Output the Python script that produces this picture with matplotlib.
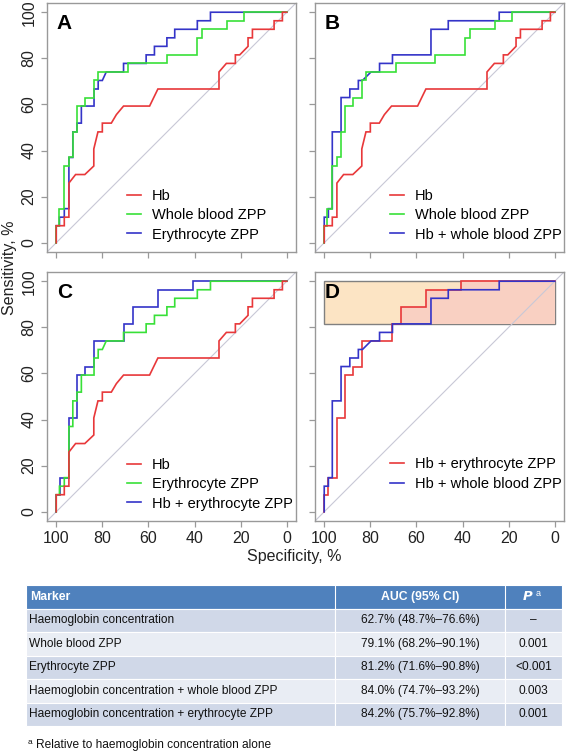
import numpy as np
import matplotlib.pyplot as plt
from matplotlib.patches import Rectangle

plt.rcParams['font.family'] = ['Liberation Sans', 'DejaVu Sans']

# ROC step curves: specificity (%) vs sensitivity (%)
hb_spec = [100, 100, 96.5, 96.5, 94.5, 94.5, 91.6, 87.6, 83.7, 83.7, 81.9, 80.0, 80.0, 76.1, 73.9, 70.8,
           59.5, 55.9, 29.4, 29.4, 26.2, 22.3, 22.3, 20.4, 16.8, 16.8, 14.9, 14.9, 5.5, 5.5, 1.9, 1.9, 0]
hb_sens = [0, 7.4, 7.4, 11.1, 11.1, 25.9, 29.6, 29.6, 33.3, 40.7, 48.1, 48.1, 51.9, 51.9, 55.6, 59.3,
           59.3, 66.7, 66.7, 74.1, 77.8, 77.8, 81.5, 81.5, 85.2, 88.9, 88.9, 92.6, 92.6, 96.3, 96.3, 100, 100]

wb_spec = [100, 100, 98.6, 98.6, 96.5, 96.5, 94.5, 94.5, 92.8, 92.8, 91.0, 91.0, 87.5, 87.5, 83.6, 83.6,
           81.8, 81.8, 68.8, 68.8, 52.0, 52.0, 39.0, 39.0, 36.8, 36.8, 25.9, 25.9, 18.6, 18.6, 0]
wb_sens = [0, 7.4, 7.4, 14.8, 14.8, 33.3, 33.3, 37.0, 37.0, 48.1, 48.1, 59.3, 59.3, 63.0, 63.0, 70.4,
           70.4, 74.1, 74.1, 77.8, 77.8, 81.5, 81.5, 88.9, 88.9, 92.6, 92.6, 96.3, 96.3, 100, 100]

ery_spec = [100, 100, 98.6, 98.6, 96.5, 96.5, 94.5, 94.5, 92.8, 92.8, 91.0, 91.0, 89.1, 89.1, 83.6, 83.6,
            81.8, 81.8, 80.0, 78.3, 70.8, 70.8, 61.0, 61.0, 57.4, 57.4, 52.0, 52.0, 48.6, 48.6, 38.8, 38.8,
            33.1, 33.1, 0]
ery_sens = [0, 7.4, 7.4, 11.1, 11.1, 14.8, 14.8, 37.0, 37.0, 48.1, 48.1, 51.9, 51.9, 59.3, 59.3, 66.7,
            66.7, 70.4, 70.4, 74.1, 74.1, 77.8, 77.8, 81.5, 81.5, 85.2, 85.2, 88.9, 88.9, 92.6, 92.6, 96.3,
            96.3, 100, 100]

hbwb_spec = [100, 100, 98.2, 98.2, 96.5, 96.5, 92.7, 92.7, 88.9, 88.9, 85.2, 85.2, 83.4, 79.7, 76.0, 76.0,
             70.4, 70.4, 53.7, 53.7, 46.2, 46.2, 24.1, 24.1, 0]
hbwb_sens = [0, 11.1, 11.1, 14.8, 14.8, 48.1, 48.1, 63.0, 63.0, 66.7, 66.7, 70.4, 70.4, 74.1, 74.1, 77.8,
             77.8, 81.5, 81.5, 92.6, 92.6, 96.3, 96.3, 100, 100]

hbery_spec = [100, 100, 98.3, 98.3, 94.6, 94.6, 91.0, 91.0, 87.6, 87.6, 83.4, 83.4, 70.8, 70.8, 66.8, 66.8,
              55.8, 55.8, 40.8, 40.8, 0]
hbery_sens = [0, 7.4, 7.4, 14.8, 14.8, 40.7, 40.7, 59.3, 59.3, 63.0, 63.0, 74.1, 74.1, 81.5, 81.5, 88.9,
              88.9, 96.3, 96.3, 100, 100]

pauc_lo = 81.5  # lower sensitivity bound of shaded region in D

ticks = [0, 20, 40, 60, 80, 100]

# table
markers = ['Haemoglobin concentration', 'Whole blood ZPP', 'Erythrocyte ZPP',
           'Haemoglobin concentration + whole blood ZPP', 'Haemoglobin concentration + erythrocyte ZPP']
aucs = ['62.7% (48.7%\u201376.6%)', '79.1% (68.2%\u201390.1%)', '81.2% (71.6%\u201390.8%)',
        '84.0% (74.7%\u201393.2%)', '84.2% (75.7%\u201392.8%)']
pvals = ['\u2013', '0.001', '<0.001', '0.003', '0.001']

RED = '#e8383a'
GREEN = '#38e038'
BLUE = '#3434c8'
GRID = '#999999'

W, H = 567, 752
fig = plt.figure(figsize=(W / 100, H / 100), dpi=100)


def px_axes(left, top, right, bottom):
    return fig.add_axes([left / W, 1 - bottom / H, (right - left) / W, (bottom - top) / H])


def roc_panel(ax, letter, curves, legend_order, xlab, ylab, leg_anchor):
    ax.set_xlim(104, -4)
    ax.set_ylim(-4, 104)
    ax.axline((100, 0), (0, 100), color='#c8c8d6', lw=0.8, zorder=1)
    handles = {}
    for (x, y, c, lab, z) in curves:
        h, = ax.plot(x, y, color=c, lw=1.2, label=lab, zorder=z, solid_joinstyle='miter')
        handles[lab] = h
    ax.set_xticks(ticks)
    ax.set_yticks(ticks)
    for s in ax.spines.values():
        s.set_color(GRID)
        s.set_linewidth(1.0)
    ax.tick_params(colors=GRID, labelcolor='#222222', length=4.5, width=0.9, labelsize=11.5, pad=3)
    ax.tick_params(axis='y', labelrotation=90)
    for t in ax.get_yticklabels():
        t.set_va('center')
    if not xlab:
        ax.set_xticklabels([])
    if not ylab:
        ax.set_yticklabels([])
    ax.text(0.04, 0.955, letter, transform=ax.transAxes, fontsize=15, fontweight='bold',
            ha='left', va='top', zorder=6)
    ax.legend([handles[k] for k in legend_order], legend_order, loc='lower left',
              bbox_to_anchor=leg_anchor, frameon=False, fontsize=10.5, handlelength=1.0,
              handletextpad=0.75, labelspacing=0.36, borderpad=0, borderaxespad=0)


axA = px_axes(47, 3, 296, 252)
axB = px_axes(315, 3, 564, 252)
axC = px_axes(47, 272, 296, 521)
axD = px_axes(315, 272, 564, 521)

roc_panel(axA, 'A',
          [(ery_spec, ery_sens, BLUE, 'Erythrocyte ZPP', 2),
           (wb_spec, wb_sens, GREEN, 'Whole blood ZPP', 3),
           (hb_spec, hb_sens, RED, 'Hb', 4)],
          ['Hb', 'Whole blood ZPP', 'Erythrocyte ZPP'], False, True, (0.32, 0.042))
roc_panel(axB, 'B',
          [(hbwb_spec, hbwb_sens, BLUE, 'Hb + whole blood ZPP', 2),
           (wb_spec, wb_sens, GREEN, 'Whole blood ZPP', 3),
           (hb_spec, hb_sens, RED, 'Hb', 4)],
          ['Hb', 'Whole blood ZPP', 'Hb + whole blood ZPP'], False, False, (0.3, 0.042))
roc_panel(axC, 'C',
          [(hbery_spec, hbery_sens, BLUE, 'Hb + erythrocyte ZPP', 2),
           (ery_spec, ery_sens, GREEN, 'Erythrocyte ZPP', 3),
           (hb_spec, hb_sens, RED, 'Hb', 4)],
          ['Hb', 'Erythrocyte ZPP', 'Hb + erythrocyte ZPP'], True, True, (0.32, 0.042))

# panel D: shaded partial-AUC region
axD.add_patch(Rectangle((0, pauc_lo), 100, 100 - pauc_lo, facecolor='#fce4c4',
                        edgecolor='#808080', lw=1.0, zorder=0.5))
axD.fill_between(hbery_spec, np.clip(hbery_sens, pauc_lo, 100), pauc_lo,
                 color='#f9d0c2', lw=0, zorder=0.6)
roc_panel(axD, 'D',
          [(hbery_spec, hbery_sens, RED, 'Hb + erythrocyte ZPP', 2),
           (hbwb_spec, hbwb_sens, BLUE, 'Hb + whole blood ZPP', 3)],
          ['Hb + erythrocyte ZPP', 'Hb + whole blood ZPP'], True, False, (0.3, 0.122))

fig.text(10 / W, 1 - 268 / H, 'Sensitivity, %', rotation=90, ha='center', va='center',
         fontsize=11.5, color='#222222')
fig.text(294 / W, 1 - 557 / H, 'Specificity, %', ha='center', va='center',
         fontsize=11.5, color='#222222')

# table below the plots
tax = fig.add_axes([0, 0, 1, 1])
tax.set_xlim(0, W)
tax.set_ylim(H, 0)
tax.axis('off')
cols = [26, 335, 505, 562]
top = 585
rh = 23.5
tax.add_patch(Rectangle((cols[0], top), cols[-1] - cols[0], rh, facecolor='#4f81bd',
                        edgecolor='white', lw=0.8))
for j in range(1, 3):
    tax.plot([cols[j], cols[j]], [top, top + rh], color='white', lw=0.8)
yc = top + rh / 2
tax.text(cols[0] + 4, yc, 'Marker', color='white', fontweight='bold', fontsize=8.8, va='center')
tax.text((cols[1] + cols[2]) / 2, yc, 'AUC (95% CI)', color='white', fontweight='bold',
         fontsize=8.8, va='center', ha='center')
tax.text((cols[2] + cols[3]) / 2, yc, r'$\boldsymbol{P}$', color='white', fontsize=9.5,
         va='center', ha='right')
tax.text((cols[2] + cols[3]) / 2 + 2, yc - 3, 'a', color='white', fontsize=6.5,
         va='center', ha='left')
for i, (m, a, p) in enumerate(zip(markers, aucs, pvals)):
    y0 = top + rh * (i + 1)
    fc = '#d0d8e8' if i % 2 == 0 else '#e9edf4'
    for j in range(3):
        tax.add_patch(Rectangle((cols[j], y0), cols[j + 1] - cols[j], rh, facecolor=fc,
                                edgecolor='white', lw=0.8))
    yc = y0 + rh / 2
    tax.text(cols[0] + 3, yc, m, fontsize=8.6, va='center', color='#111111')
    tax.text((cols[1] + cols[2]) / 2, yc, a, fontsize=8.6, va='center', ha='center', color='#111111')
    tax.text((cols[2] + cols[3]) / 2, yc, p, fontsize=8.6, va='center', ha='center', color='#111111')

tax.text(cols[0] + 2, 742, 'a', fontsize=6, va='center', color='#111111')
tax.text(cols[0] + 10, 745, 'Relative to haemoglobin concentration alone', fontsize=8.6,
         va='center', color='#111111')

fig.savefig('out.png', dpi=100)
